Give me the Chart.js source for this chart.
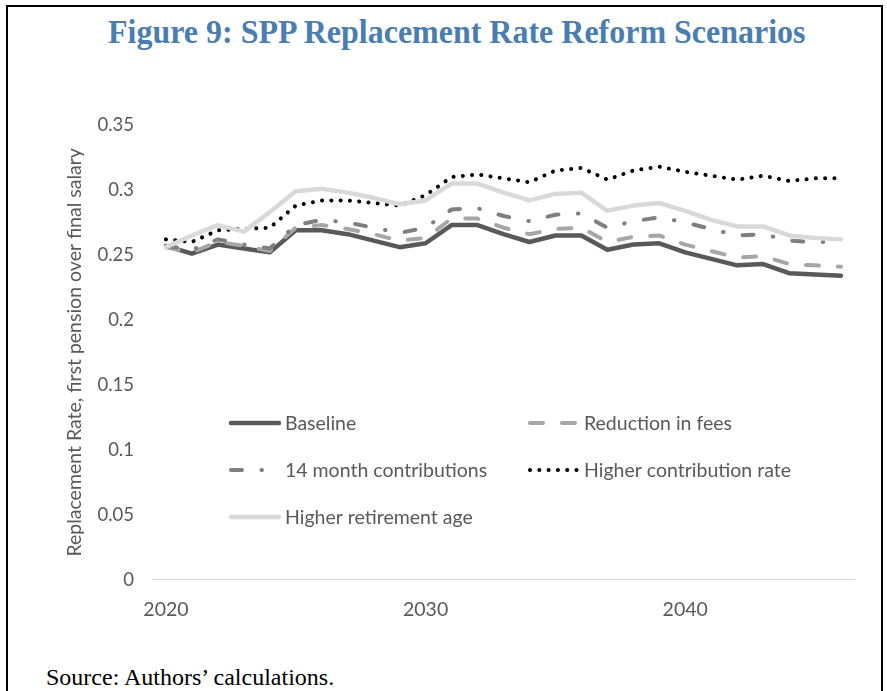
<!DOCTYPE html>
<html>
<head>
<meta charset="utf-8">
<script src="https://cdn.jsdelivr.net/npm/chart.js@4/dist/chart.umd.min.js"></script>
<style>
  html, body { margin: 0; padding: 0; background: #fff; width: 887px; height: 691px; overflow: hidden; }
  #frame { position: absolute; left: 6px; top: 5px; width: 873px; height: 720px; border: 2px solid #000; border-bottom: none; }
  #title { position: absolute; left: 13px; top: 12px; width: 887px; text-align: center; white-space: nowrap;
           font-family: "Liberation Serif", serif; font-weight: bold; font-size: 34px; line-height: 40px; color: #4a7db0; }
  #title span { display: inline-block; transform-origin: center; }
  #source { position: absolute; left: 46px; top: 663px; font-family: "Liberation Serif", serif; font-size: 24px; line-height: 28px; color: #000; }
  #wrap { position: absolute; left: 0; top: 95px; width: 887px; height: 545px; }
</style>
</head>
<body>
<div id="frame"></div>
<div id="title"><span id="titleText">Figure 9: SPP Replacement Rate Reform Scenarios</span></div>
<div id="wrap"><canvas id="myChart" width="887" height="545"></canvas></div>
<div id="source">Source: Authors’ calculations.</div>
<script>
// years along the x-axis
var years = [2020,2021,2022,2023,2024,2025,2026,2027,2028,2029,2030,2031,2032,2033,2034,2035,2036,2037,2038,2039,2040,2041,2042,2043,2044,2045,2046];
// replacement rate per scenario
var baseline = [0.257,0.251,0.258,0.255,0.252,0.269,0.269,0.266,0.261,0.256,0.259,0.273,0.273,0.266,0.260,0.265,0.265,0.254,0.258,0.259,0.252,0.247,0.242,0.243,0.236,0.235,0.234];
var fees = [0.256,0.252,0.260,0.257,0.253,0.271,0.273,0.270,0.266,0.261,0.263,0.278,0.278,0.271,0.266,0.270,0.271,0.260,0.264,0.265,0.258,0.253,0.248,0.249,0.243,0.242,0.241];
var month14 = [0.257,0.254,0.262,0.258,0.255,0.273,0.277,0.275,0.271,0.267,0.271,0.285,0.286,0.280,0.276,0.281,0.282,0.271,0.276,0.279,0.275,0.270,0.265,0.266,0.261,0.260,0.260];
var contribRate = [0.262,0.260,0.269,0.270,0.271,0.288,0.292,0.292,0.290,0.288,0.296,0.310,0.312,0.309,0.306,0.315,0.317,0.308,0.315,0.318,0.314,0.311,0.308,0.311,0.307,0.309,0.309];
var retireAge = [0.256,0.265,0.273,0.268,0.283,0.299,0.301,0.298,0.294,0.289,0.292,0.305,0.305,0.298,0.292,0.297,0.298,0.284,0.288,0.290,0.284,0.277,0.272,0.272,0.265,0.263,0.262];
var yTitle = 'Replacement Rate, first pension over final salary';

// squeeze the title to the width it has in the figure
var t = document.getElementById('titleText');
t.style.transform = 'scaleX(' + (698 / t.offsetWidth) + ')';

var grey = '#595959';
var font = 'Lato';

// legend drawn inside the plot, two columns
var insideLegend = {
  id: 'insideLegend',
  afterDatasetsDraw: function(chart) {
    var ctx = chart.ctx, area = chart.chartArea;
    ctx.save();
    ctx.font = '19.5px ' + font;
    ctx.fillStyle = grey;
    ctx.textBaseline = 'middle';
    chart.data.datasets.forEach(function(ds, i) {
      var x0 = area.left + 76 + (i % 2) * 299;
      var y = area.top + 298 + Math.floor(i / 2) * 47;
      ctx.beginPath();
      ctx.strokeStyle = ds.borderColor;
      ctx.lineWidth = ds.borderWidth;
      ctx.lineCap = 'round';
      ctx.setLineDash(ds.borderDash || []);
      ctx.moveTo(x0 + 2, y);
      ctx.lineTo(x0 + 50, y);
      ctx.stroke();
      ctx.setLineDash([]);
      ctx.fillText(ds.label, x0 + 56, y + 1);
    });
    ctx.restore();
  }
};

var ctx = document.getElementById('myChart');
var myChart = new Chart(ctx, {
  type: 'line',
  data: {
    labels: years,
    datasets: [
      { data: baseline, label: 'Baseline', borderColor: '#595959', borderWidth: 4.5, order: 5 },
      { data: fees, label: 'Reduction in fees', borderColor: '#a6a6a6', borderWidth: 4, borderDash: [13, 19], order: 4 },
      { data: month14, label: '14 month contributions', borderColor: '#7f7f7f', borderWidth: 4, borderDash: [11, 19.5, 0.5, 19.5], order: 3 },
      { data: contribRate, label: 'Higher contribution rate', borderColor: '#000000', borderWidth: 4, borderDash: [0.1, 9.2], order: 2 },
      { data: retireAge, label: 'Higher retirement age', borderColor: '#d9d9d9', borderWidth: 4.5, order: 1 }
    ]
  },
  options: {
    responsive: false,
    animation: false,
    elements: {
      point: { radius: 0 },
      line: { tension: 0, fill: false, borderCapStyle: 'round', borderJoinStyle: 'round' }
    },
    layout: { padding: { top: 22, bottom: 1, left: 63, right: 33 } },
    plugins: { legend: { display: false }, tooltip: { enabled: false } },
    scales: {
      x: {
        offset: true,
        grid: { display: false, drawTicks: false },
        border: { color: '#d9d9d9', width: 1 },
        ticks: {
          color: grey, font: { family: font, size: 19.5 }, padding: 18,
          autoSkip: false, maxRotation: 0,
          callback: function(v, i) { return years[i] % 10 === 0 ? String(years[i]) : ''; }
        }
      },
      y: {
        min: 0, max: 0.35,
        grid: { display: false, drawTicks: false },
        border: { display: false },
        ticks: {
          stepSize: 0.05, color: grey, font: { family: font, size: 18.5 }, padding: 19,
          callback: function(v) { return String(+v.toFixed(2)); }
        },
        title: { display: true, text: yTitle, color: grey, font: { family: font, size: 19.5 }, padding: { top: 0, bottom: -8 } }
      }
    }
  },
  plugins: [insideLegend]
});
</script>
</body>
</html>
